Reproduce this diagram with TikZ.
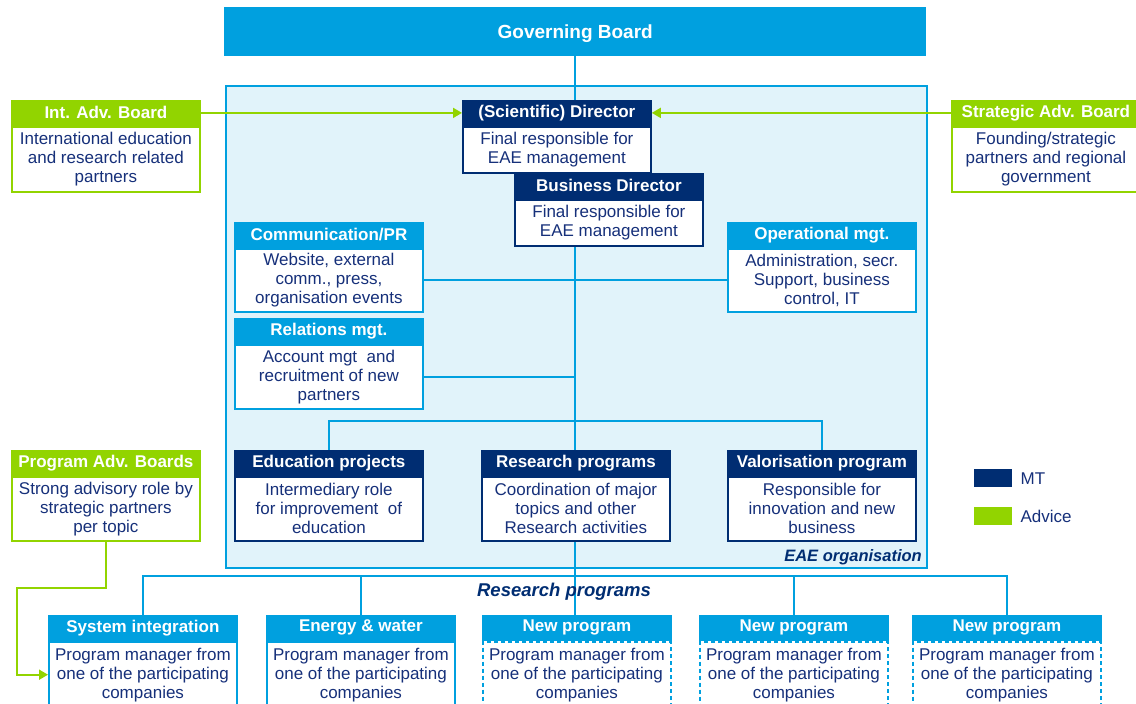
\documentclass[tikz,border=0pt]{standalone}
\usepackage{fontspec}
\setmainfont{Liberation Sans}
\usetikzlibrary{arrows.meta}

\definecolor{eaecyan}{RGB}{0,160,223}
\definecolor{eaenavy}{RGB}{0,45,114}
\definecolor{eaegreen}{RGB}{146,212,0}
\definecolor{eaepale}{RGB}{225,243,250}
\definecolor{eaetext}{RGB}{22,48,122}

\pgfdeclarelayer{bg}
\pgfdeclarelayer{wires}
\pgfsetlayers{bg,wires,main}

\tikzset{
  head/.style={fill=#1, draw=#1, line width=1.8pt, text=white,
    font={\bfseries\fontsize{17}{19}\selectfont},
    minimum width=188pt, minimum height=24pt, inner sep=0pt, anchor=north west},
  body/.style={draw=#1, fill=white, line width=1.8pt, text=eaetext,
    font={\fontsize{17}{19}\selectfont}, align=center,
    minimum width=188pt, inner sep=0pt, anchor=north west},
  conn/.style={draw=eaecyan, line width=1.8pt},
  adv/.style={draw=eaegreen, line width=1.8pt,
    -{Triangle[length=9pt,width=10pt]}},
  keybox/.style={minimum width=38pt, minimum height=18pt, inner sep=0pt,
    anchor=north west},
  keylabel/.style={anchor=west, text=eaetext, inner sep=0pt,
    font={\fontsize{17}{19}\selectfont}},
}

\begin{document}
\begin{tikzpicture}[x=1pt, y=-1pt]
\useasboundingbox (0,0) rectangle (1136,704);

% organisation frame
\begin{pgfonlayer}{bg}
  \node[fill=eaepale, draw=eaecyan, line width=1.8pt, anchor=north west,
        minimum width=701pt, minimum height=482pt, inner sep=0pt] (EAE) at (225,85) {};
\end{pgfonlayer}
\node[anchor=base east, text=eaenavy, inner sep=0pt,
      font={\bfseries\itshape\fontsize{16.5}{19}\selectfont}] (eae-label) at (922,561) {EAE organisation};

% governing board
\node[fill=eaecyan, anchor=north west, minimum width=702pt, minimum height=49pt,
      inner sep=0pt, text=white, font={\bfseries\fontsize{19}{22}\selectfont}] (GB) at (224,7) {};
\node[text=white, inner sep=0pt, font={\bfseries\fontsize{19}{22}\selectfont}]
  (GB-title) at ([yshift=-2pt]GB.center) {Governing Board};

% advisory boards
\node[head=eaegreen] (IAB) at (11,100) {Int. Adv. Board};
\node[body=eaegreen, minimum height=65pt] (IAB-b) at (IAB.south west)
  {International education\\and research related\\partners};
\node[head=eaegreen] (SAB) at (951,100) {Strategic Adv. Board};
\node[body=eaegreen, minimum height=65pt] (SAB-b) at (SAB.south west)
  {Founding/strategic\\partners and regional\\government};
\node[head=eaegreen] (PAB) at (11,450) {Program Adv. Boards};
\node[body=eaegreen, minimum height=64pt] (PAB-b) at (PAB.south west)
  {Strong advisory role by\\strategic partners\\per topic};

% management team
\node[head=eaenavy] (SD) at (462,100) {(Scientific) Director};
\node[body=eaenavy, minimum height=46pt] (SD-b) at (SD.south west)
  {Final responsible for\\EAE management};
\node[head=eaenavy] (BD) at (514,173) {Business Director};
\node[body=eaenavy, minimum height=46pt] (BD-b) at (BD.south west)
  {Final responsible for\\EAE management};

% staff functions
\node[head=eaecyan] (COM) at (234,222) {Communication/PR};
\node[body=eaecyan, minimum height=63pt] (COM-b) at (COM.south west)
  {Website, external\\comm., press,\\organisation events};
\node[head=eaecyan] (OPS) at (727,222) {Operational mgt.};
\node[body=eaecyan, minimum height=63pt] (OPS-b) at (OPS.south west)
  {Administration, secr.\\Support, business\\control, IT};
\node[head=eaecyan] (REL) at (234,318) {Relations mgt.};
\node[body=eaecyan, minimum height=64pt] (REL-b) at (REL.south west)
  {Account mgt\ \ and\\recruitment of new\\partners};

% line units
\node[head=eaenavy] (EP) at (234,450) {Education projects};
\node[body=eaenavy, minimum height=64pt] (EP-b) at (EP.south west)
  {Intermediary role\\for improvement\ \ of\\education};
\node[head=eaenavy] (RP) at (481,450) {Research programs};
\node[body=eaenavy, minimum height=64pt] (RP-b) at (RP.south west)
  {Coordination of major\\topics and other\\Research activities};
\node[head=eaenavy] (VP) at (727,450) {Valorisation program};
\node[body=eaenavy, minimum height=64pt] (VP-b) at (VP.south west)
  {Responsible for\\innovation and new\\business};

% legend
\node[keybox, fill=eaenavy] (mt-key) at (974,469) {};
\node[keylabel] (mt-label) at ([xshift=8pt]mt-key.east) {MT};
\node[keybox, fill=eaegreen] (adv-key) at (974,507) {};
\node[keylabel] (adv-label) at ([xshift=8pt]adv-key.east) {Advice};

% research programs
\node[text=eaenavy, inner sep=0pt,
      font={\bfseries\itshape\fontsize{18.5}{22}\selectfont}] (rp-label) at (564,592) {Research programs};
\node[head=eaecyan] (SI) at (48,615) {System integration};
\node[body=eaecyan, minimum height=66pt] (SI-b) at (SI.south west)
  {Program manager from\\one of the participating\\companies};
\node[head=eaecyan] (EW) at (266,615) {Energy \& water};
\node[body=eaecyan, minimum height=66pt] (EW-b) at (EW.south west)
  {Program manager from\\one of the participating\\companies};
\node[head=eaecyan] (NP1) at (482,615) {New program};
\node[body=eaecyan, dashed, dash pattern=on 4pt off 3pt, minimum height=66pt] (NP1-b) at (NP1.south west)
  {Program manager from\\one of the participating\\companies};
\node[head=eaecyan] (NP2) at (699,615) {New program};
\node[body=eaecyan, dashed, dash pattern=on 4pt off 3pt, minimum height=66pt] (NP2-b) at (NP2.south west)
  {Program manager from\\one of the participating\\companies};
\node[head=eaecyan] (NP3) at (912,615) {New program};
\node[body=eaecyan, dashed, dash pattern=on 4pt off 3pt, minimum height=66pt] (NP3-b) at (NP3.south west)
  {Program manager from\\one of the participating\\companies};

% reporting lines
\coordinate (edu-bus) at (575,421);
\coordinate (prog-bus) at (575,576);
\coordinate (pab-bend) at (17,588);
\begin{pgfonlayer}{wires}
  \draw[conn] (GB.south) -- (GB.south |- NP1.north);
  \draw[conn] (COM-b.east) -- (OPS-b.west);
  \draw[conn] (REL-b.east) -- (REL-b.east -| GB.south);
  \draw[conn] (EP.north) |- (edu-bus) -| (VP.north);
  \draw[conn] (SI.north) |- (prog-bus) -| (NP3.north);
  \draw[conn] (EW.north) -- (EW.north |- prog-bus);
  \draw[conn] (NP2.north) -- (NP2.north |- prog-bus);
\end{pgfonlayer}

% advice lines
\draw[adv] (IAB.east) -- (SD.west);
\draw[adv] (SAB.west) -- (SD.east);
\draw[adv] (PAB-b.south) |- (pab-bend) |- (SI-b.west);
\end{tikzpicture}
\end{document}
